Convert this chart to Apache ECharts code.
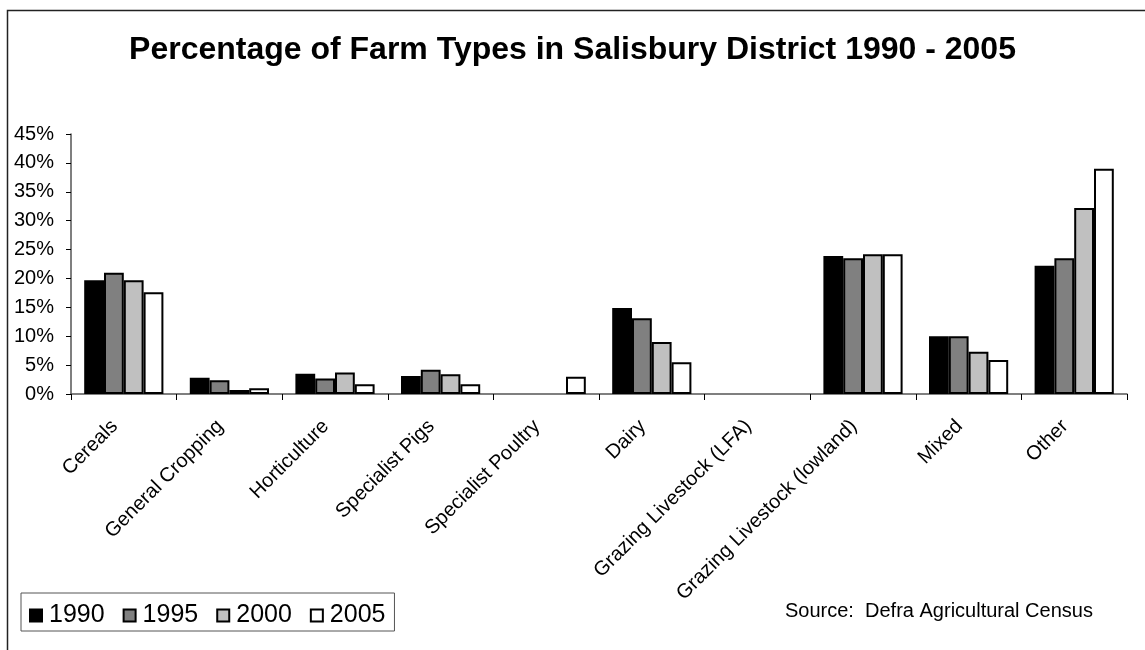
<!DOCTYPE html>
<html>
<head>
<meta charset="utf-8">
<script src="https://cdn.jsdelivr.net/npm/echarts@6/dist/echarts.min.js"></script>
<style>
  html, body { margin: 0; padding: 0; background: #fff; }
  #chart { width: 1145px; height: 650px; }
</style>
</head>
<body>
<div id="chart"></div>
<script>
const categories = ['Cereals', 'General Cropping', 'Horticulture', 'Specialist Pigs', 'Specialist Poultry',
  'Dairy', 'Grazing Livestock (LFA)', 'Grazing Livestock (lowland)', 'Mixed', 'Other'];
const years = ['1990', '1995', '2000', '2005'];
const v1990 = [19.7, 2.8, 3.5, 3.1, 0, 14.9, 0, 23.9, 10.0, 22.2];
const v1995 = [21.0, 2.4, 2.7, 4.2, 0, 13.1, 0, 23.5, 10.0, 23.5];
const v2000 = [19.7, 0.7, 3.7, 3.4, 0, 9.0, 0, 24.2, 7.3, 32.2];
const v2005 = [17.6, 1.0, 1.7, 1.7, 3.0, 5.5, 0, 24.2, 5.9, 39.0];
const colors = ['#000000', '#808080', '#c0c0c0', '#ffffff'];

const font = 'Liberation Sans, Arial, sans-serif';
const chart = echarts.init(document.getElementById('chart'));

const seriesData = [v1990, v1995, v2000, v2005];

chart.setOption({
  animation: false,
  title: {
    text: 'Percentage of Farm Types in Salisbury District 1990 - 2005',
    left: 'center',
    top: 29,
    textStyle: { fontFamily: font, fontSize: 32, fontWeight: 'bold', color: '#000' }
  },
  graphic: [
    {
      type: 'rect',
      shape: { x: 7.5, y: 10.5, width: 1200, height: 700 },
      style: { fill: 'none', stroke: '#222', lineWidth: 1.5 }
    },
    {
      type: 'text',
      left: 785,
      top: 601,
      style: { text: 'Source:  Defra Agricultural Census', font: '20px ' + font, fill: '#000' }
    }
  ],
  legend: {
    left: 21,
    top: 593,
    padding: [10, 9, 3, 8],
    itemWidth: 12,
    itemHeight: 12,
    itemGap: 18,
    icon: 'rect',
    borderColor: '#555',
    borderWidth: 1,
    textStyle: { fontFamily: font, fontSize: 25, color: '#000', padding: [0, 0, 0, 2] },
    data: years
  },
  grid: { left: 71, right: 18, top: 134, bottom: 256 },
  xAxis: {
    type: 'category',
    data: categories,
    axisLine: { lineStyle: { color: '#555', width: 1.5 } },
    axisTick: { show: true, length: 6, interval: 0, lineStyle: { color: '#000' } },
    axisLabel: {
      rotate: 45, interval: 0, margin: 20, fontFamily: font, fontSize: 20, color: '#000',
      padding: [0, 13, 0, 0]
    }
  },
  yAxis: {
    type: 'value',
    min: 0,
    max: 45,
    interval: 5,
    splitLine: { show: false },
    axisLine: { show: true, lineStyle: { color: '#555', width: 1.5 } },
    axisTick: { show: true, length: 5, lineStyle: { color: '#000' } },
    axisLabel: { formatter: '{value}%', margin: 17, fontFamily: font, fontSize: 20, color: '#000' }
  },
  series: years.map((y, i) => ({
    name: y,
    type: 'bar',
    // zero bars get no outline so they don't thicken the axis line
    data: seriesData[i].map(v => v === 0 ? { value: v, itemStyle: { borderWidth: 0 } } : v),
    barGap: '0%',
    barCategoryGap: '25%',
    itemStyle: { color: colors[i], borderColor: '#000', borderWidth: 2 }
  }))
});
</script>
</body>
</html>
